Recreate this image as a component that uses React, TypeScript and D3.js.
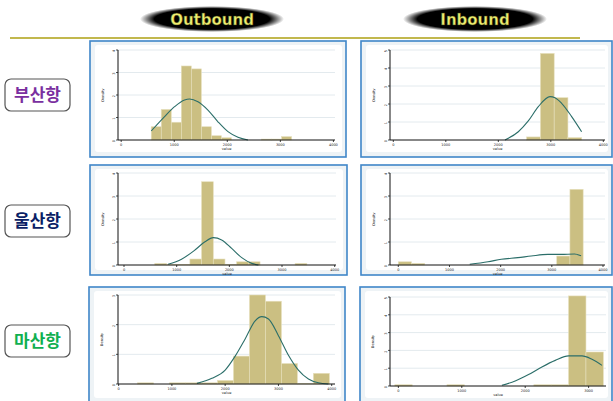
import React from "react";
import * as d3 from "d3";

const W = 613;
const H = 401;

// bar heights (y units) per bin, bin start / width in x units, curve points
const busanOutBins = [0.59, 1.36, 0.79, 3.29, 3.16, 0.59, 0.19, 0.1, 0, 0, 0, 0.04, 0.04, 0.15];
const busanOutCurve: [number, number][] = [
  [566, 0.4], [818, 1.04], [1006, 1.48], [1195, 1.78], [1289, 1.82], [1447, 1.7],
  [1635, 1.33], [1824, 0.81], [2013, 0.37], [2201, 0.12], [2390, 0],
];
const busanInBins = [0.17, 4.81, 2.35, 0.13];
const busanInCurve: [number, number][] = [
  [2127, 0], [2381, 0.46], [2571, 1.06], [2762, 1.85], [2984, 2.41], [3079, 2.35],
  [3206, 2.04], [3397, 1.3], [3587, 0.46],
];
const ulsanOutBins = [0.07, 0.03, 0.03, 0.26, 3.62, 0.26, 0.03, 0.14, 0.14, 0, 0, 0, 0.07];
const ulsanOutCurve: [number, number][] = [
  [838, 0.03], [1092, 0.25], [1346, 0.65], [1537, 1.01], [1695, 1.19], [1854, 1.09],
  [2044, 0.72], [2235, 0.32], [2425, 0.07], [2552, 0],
];
const ulsanInBins = [0.14, 0.07, 0, 0, 0, 0, 0, 0, 0, 0, 0, 0, 0.39, 3.29];
const ulsanInCurve: [number, number][] = [
  [1396, 0.03], [1753, 0.14], [2013, 0.25], [2338, 0.32], [2597, 0.39], [2922, 0.46],
  [3182, 0.46], [3442, 0.48], [3571, 0.4],
];
const masanOutBins = [0, 0.04, 0, 0.04, 0.04, 0.04, 0.12, 0.94, 3.0, 2.79, 0.69, 0.02, 0.36];
const masanOutCurve: [number, number][] = [
  [1469, 0.02], [1750, 0.19], [2000, 0.47], [2188, 0.94], [2375, 1.52], [2563, 2.13],
  [2688, 2.27], [2813, 2.19], [3000, 1.63], [3188, 0.97], [3375, 0.47], [3563, 0.17],
  [3750, 0.04], [3938, 0],
];
const masanInBins = [0.07, 0, 0, 0.07, 0, 0, 0, 0, 0.07, 0.07, 5.06, 1.91];
const masanInCurve: [number, number][] = [
  [1632, 0.04], [1842, 0.28], [2053, 0.64], [2263, 1.07], [2474, 1.44], [2684, 1.69],
  [2895, 1.69], [3053, 1.5], [3211, 1.16],
];

const xTicks4 = [0, 1000, 2000, 3000, 4000];
const xTicks3 = [0, 1000, 2000, 3000];
const portNames = ["부산항", "울산항", "마산항"];
const portColors = ["#7a2fa0", "#0b1f66", "#10b050"];
const headers = ["Outbound", "Inbound"];

type P = {
  bins: number[]; start: number; width: number; curve: [number, number][];
  domain: [number, number]; ticks: number[]; yMax: number;
  box: [number, number, number, number]; plot: [number, number, number, number];
};

const panels: P[] = [
  { bins: busanOutBins, start: 566, width: 189, curve: busanOutCurve, domain: [-60, 4030], ticks: xTicks4, yMax: 4,
    box: [90, 41, 256, 116], plot: [118, 335, 50, 140] },
  { bins: busanInBins, start: 2540, width: 262, curve: busanInCurve, domain: [-63, 4032], ticks: xTicks4, yMax: 5,
    box: [361, 41, 251, 116], plot: [390, 605, 50, 140] },
  { bins: ulsanOutBins, start: 585, width: 222, curve: ulsanOutCurve, domain: [-114, 4025], ticks: xTicks4, yMax: 4,
    box: [90, 165, 257, 110], plot: [118, 336, 173, 265] },
  { bins: ulsanInBins, start: 0, width: 258, curve: ulsanInCurve, domain: [-162, 4039], ticks: xTicks4, yMax: 4,
    box: [361, 165, 251, 110], plot: [390, 605, 173, 265] },
  { bins: masanOutBins, start: 56, width: 300, curve: masanOutCurve, domain: [-12, 4062], ticks: xTicks4, yMax: 3,
    box: [89, 287, 256, 116], plot: [118, 335, 295, 384] },
  { bins: masanInBins, start: -56, width: 274, curve: masanInCurve, domain: [-132, 3274], ticks: xTicks3, yMax: 5,
    box: [360, 287, 252, 116], plot: [390, 606, 297, 386] },
];

const Panel = ({ p }: { p: P }) => {
  const [bx, by, bw, bh] = p.box;
  const [l, r, t, b] = p.plot;
  const x = d3.scaleLinear().domain(p.domain).range([l, r]);
  const y = d3.scaleLinear().domain([0, p.yMax]).range([b, t]);
  const yTicks = d3.range(0, p.yMax + 1);
  const line = d3.line<[number, number]>().x((d) => x(d[0])).y((d) => y(d[1])).curve(d3.curveMonotoneX);
  return (
    <g>
      <rect x={bx} y={by} width={bw} height={bh} fill="#eef3f6" stroke="#3f86c9" strokeWidth={1.6} />
      <rect x={bx + 5} y={by + 4} width={bw - 9} height={bh - 9} rx={3} fill="#ffffff" />
      {yTicks.map((v) => (
        <g key={v}>
          {v > 0 && <line x1={l} x2={r} y1={y(v)} y2={y(v)} stroke="#e3eaee" strokeWidth={1} />}
          <line x1={l - 2} x2={l} y1={y(v)} y2={y(v)} stroke="#222" strokeWidth={0.8} />
          <text x={l - 4} y={y(v)} fontSize={3.5} textAnchor="end" dominantBaseline="middle" fill="#222"
            transform={`rotate(-90 ${l - 4} ${y(v)})`}>{v}</text>
        </g>
      ))}
      {p.bins.map((v, i) =>
        v > 0 ? (
          <rect key={i} x={x(p.start + i * p.width)} y={y(v)}
            width={x(p.start + (i + 1) * p.width) - x(p.start + i * p.width)} height={b - y(v)}
            fill="#cbbf82" stroke="#e6dfbc" strokeWidth={0.6} />
        ) : null
      )}
      <path d={line(p.curve) ?? ""} fill="none" stroke="#2b6e69" strokeWidth={1.1} />
      <line x1={l} x2={l} y1={t} y2={b} stroke="#111" strokeWidth={1} />
      <line x1={l} x2={r} y1={b} y2={b} stroke="#111" strokeWidth={1} />
      {p.ticks.map((v) => (
        <g key={v}>
          <line x1={x(v)} x2={x(v)} y1={b} y2={b + 2} stroke="#111" strokeWidth={0.8} />
          <text x={x(v)} y={b + 6} fontSize={3.5} textAnchor="middle" fill="#222">{v}</text>
        </g>
      ))}
      <text x={(l + r) / 2} y={b + 10} fontSize={3.5} textAnchor="middle" fill="#222">value</text>
      <text x={bx + 14} y={(t + b) / 2} fontSize={3.5} textAnchor="middle" fill="#222"
        transform={`rotate(-90 ${bx + 14} ${(t + b) / 2})`}>Density</text>
    </g>
  );
};

const App = () => {
  const headerX = [212, 475];
  const labelY = [79, 205, 325];
  return (
    <svg width={W} height={H} style={{ position: "fixed", left: 0, top: 0 }}
      fontFamily="DejaVu Sans, sans-serif">
      <defs>
        <radialGradient id="ell" cx="50%" cy="50%" r="50%">
          <stop offset="0%" stopColor="#000" />
          <stop offset="80%" stopColor="#000" />
          <stop offset="100%" stopColor="#000" stopOpacity={0} />
        </radialGradient>
      </defs>
      <rect width={W} height={H} fill="#fff" />
      {headers.map((h, i) => (
        <g key={h}>
          <ellipse cx={headerX[i]} cy={19} rx={72} ry={13} fill="url(#ell)" />
          <text x={headerX[i]} y={24.5} textAnchor="middle" fontSize={15} fontWeight="bold"
            fill="#eeee70" stroke="#3a3a10" strokeWidth={0.4}>{h}</text>
        </g>
      ))}
      <line x1={10} x2={580} y1={38} y2={38} stroke="#c2b84e" strokeWidth={2} />
      {portNames.map((n, i) => (
        <g key={n}>
          <rect x={5} y={labelY[i]} width={65} height={32} rx={6} fill="#fff" stroke="#555" strokeWidth={1.2} />
          <text x={37.5} y={labelY[i] + 22} textAnchor="middle" fontSize={17} fontWeight="bold"
            fontFamily="Noto Sans CJK KR, sans-serif" fill={portColors[i]}>{n}</text>
        </g>
      ))}
      {panels.map((p, i) => <Panel key={i} p={p} />)}
    </svg>
  );
};

export default App;
